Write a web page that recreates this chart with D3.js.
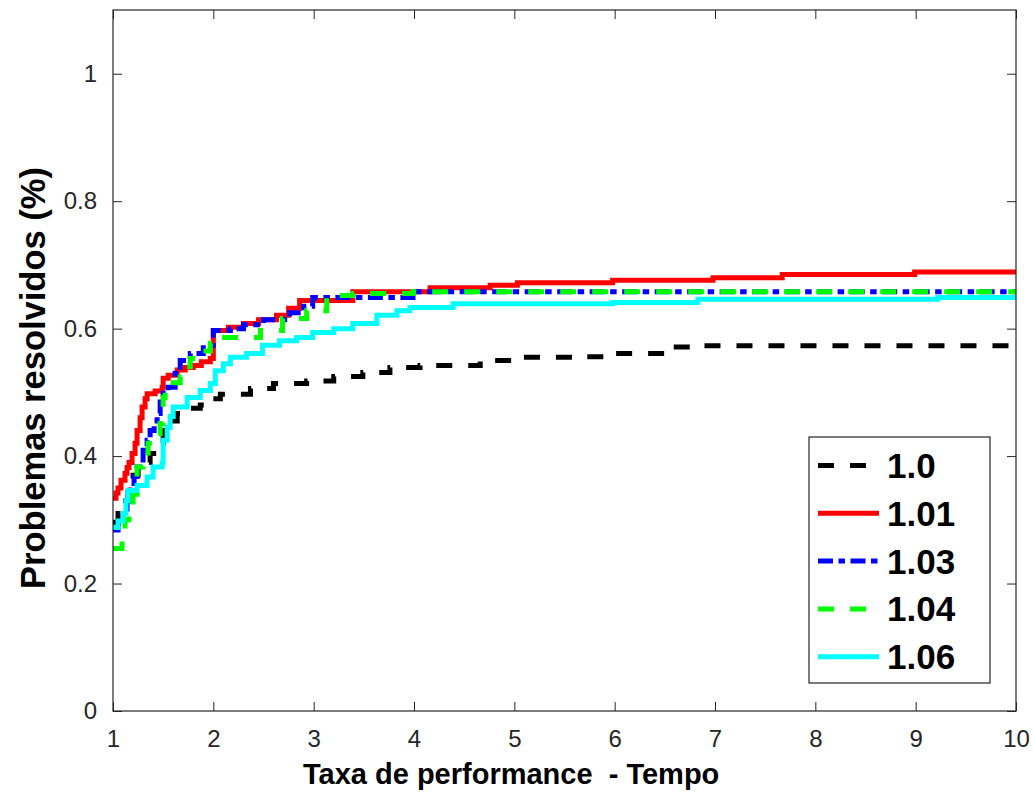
<!DOCTYPE html>
<html>
<head>
<meta charset="utf-8">
<script src="https://cdn.jsdelivr.net/npm/d3@7"></script>
<style>
  body { margin: 0; background: #fff; }
  svg { display: block; font-family: "Liberation Sans", Arial, Helvetica, sans-serif; }
</style>
</head>
<body>
<svg id="chart" width="1034" height="793"></svg>
<script>
// performance profile, [tau, fraction solved]
var names = ["1.0", "1.01", "1.03", "1.04", "1.06"];
var colors = ["#000000", "#ff0000", "#0000ff", "#00ff00", "#00ffff"];
var dashes = ["16,16", null, "15,5.5,6.5,5.5", "16,16", null];

var p100 = [[1.0,0.296],[1.05,0.31],[1.1,0.33],[1.15,0.35],[1.2,0.37],[1.25,0.38],[1.3,0.39],[1.37,0.404],
  [1.45,0.42],[1.5,0.44],[1.57,0.455],[1.64,0.467],[1.75,0.475],[1.87,0.48],[2.0,0.49],[2.07,0.497],
  [2.37,0.506],[2.6,0.514],[2.93,0.518],[3.2,0.525],[3.49,0.531],[3.76,0.539],[4.06,0.542],[4.66,0.55],
  [4.99,0.555],[5.62,0.556],[5.92,0.561],[6.52,0.571],[6.78,0.573],[10,0.573]];
var p101 = [[1.0,0.334],[1.03,0.342],[1.05,0.35],[1.08,0.362],[1.12,0.373],[1.14,0.382],[1.16,0.39],
  [1.19,0.404],[1.22,0.42],[1.24,0.44],[1.27,0.46],[1.29,0.477],[1.32,0.49],[1.34,0.498],[1.42,0.502],
  [1.49,0.508],[1.5,0.522],[1.55,0.527],[1.64,0.535],[1.72,0.539],[1.8,0.542],[1.88,0.548],[1.97,0.553],
  [2.0,0.597],[2.15,0.602],[2.3,0.608],[2.45,0.614],[2.63,0.621],[2.75,0.632],[2.86,0.644],[3.39,0.658],
  [4.16,0.664],[4.76,0.668],[5.03,0.672],[5.98,0.676],[6.98,0.68],[7.67,0.685],[8.99,0.689],[10,0.689]];
var p103 = [[1.0,0.284],[1.05,0.295],[1.1,0.31],[1.14,0.33],[1.17,0.351],[1.21,0.368],[1.24,0.383],
  [1.3,0.409],[1.34,0.425],[1.37,0.44],[1.41,0.455],[1.44,0.467],[1.47,0.485],[1.5,0.503],[1.55,0.508],
  [1.62,0.53],[1.67,0.55],[1.77,0.561],[1.9,0.574],[2.0,0.597],[2.17,0.6],[2.3,0.606],[2.5,0.614],
  [2.76,0.625],[2.9,0.635],[2.99,0.649],[3.99,0.658],[10,0.658]];
var p104 = [[1.0,0.255],[1.09,0.268],[1.12,0.3],[1.16,0.32],[1.2,0.34],[1.24,0.383],[1.3,0.4],[1.35,0.42],
  [1.41,0.435],[1.47,0.451],[1.5,0.492],[1.52,0.506],[1.6,0.515],[1.67,0.524],[1.72,0.54],[1.77,0.553],
  [1.9,0.565],[1.97,0.577],[2.0,0.586],[2.47,0.597],[2.69,0.616],[2.93,0.628],[3.13,0.652],[3.39,0.655],
  [3.99,0.658],[10,0.658]];
var p106 = [[1.0,0.288],[1.05,0.298],[1.1,0.31],[1.13,0.33],[1.15,0.346],[1.24,0.354],[1.34,0.367],
  [1.4,0.383],[1.49,0.389],[1.5,0.425],[1.54,0.445],[1.57,0.462],[1.6,0.477],[1.74,0.492],[1.87,0.503],
  [1.97,0.514],[2.02,0.534],[2.1,0.545],[2.17,0.555],[2.33,0.561],[2.49,0.574],[2.66,0.581],[2.83,0.586],
  [2.99,0.594],[3.2,0.6],[3.39,0.608],[3.63,0.621],[3.83,0.628],[3.96,0.633],[4.39,0.639],[5.98,0.641],
  [6.83,0.646],[9.22,0.649],[10,0.649]];
var series = [p100, p101, p103, p104, p106];

var xTicks = [1, 2, 3, 4, 5, 6, 7, 8, 9, 10];
var yTicks = [0, 0.2, 0.4, 0.6, 0.8, 1];

var svg = d3.select("#chart"),
  margin = {top: 10, right: 18, bottom: 82, left: 113},
  width = 1034 - margin.left - margin.right,
  height = 793 - margin.top - margin.bottom,
  axisColor = "#262626",
  tickLen = 9;

var x = d3.scaleLinear().domain([1, 10]).range([0, width]),
  y = d3.scaleLinear().domain([0, 1.1]).range([height, 0]);

var g = svg.append("g")
  .attr("transform", "translate(" + margin.left + "," + margin.top + ")");

g.append("clipPath").attr("id", "clip")
  .append("rect").attr("width", width).attr("height", height);

var line = d3.line()
  .x(function(d) { return x(d[0]); })
  .y(function(d) { return y(d[1]); })
  .curve(d3.curveStepAfter);

g.append("g").attr("clip-path", "url(#clip)")
  .selectAll("path")
  .data(series)
  .enter().append("path")
  .attr("d", line)
  .attr("fill", "none")
  .attr("stroke", function(d, i) { return colors[i]; })
  .attr("stroke-width", 5)
  .attr("stroke-dasharray", function(d, i) { return dashes[i]; });

// matlab style box with inward ticks on all four sides
function styleAxis(sel) {
  sel.select(".domain").remove();
  sel.selectAll("line").attr("stroke", axisColor);
  sel.selectAll("text")
    .attr("fill", axisColor)
    .style("font-size", "24px");
}

g.append("g")
  .attr("transform", "translate(0," + height + ")")
  .call(d3.axisBottom(x).tickValues(xTicks).tickFormat(d3.format("d")).tickSizeInner(-tickLen).tickPadding(19))
  .call(styleAxis);
g.append("g")
  .call(d3.axisTop(x).tickValues(xTicks).tickSizeInner(-tickLen).tickFormat(""))
  .call(styleAxis);
g.append("g")
  .call(d3.axisLeft(y).tickValues(yTicks).tickFormat(function(d) { return d; }).tickSizeInner(-tickLen).tickPadding(16))
  .call(styleAxis);
g.append("g")
  .attr("transform", "translate(" + width + ",0)")
  .call(d3.axisRight(y).tickValues(yTicks).tickSizeInner(-tickLen).tickFormat(""))
  .call(styleAxis);

g.append("rect")
  .attr("width", width).attr("height", height)
  .attr("fill", "none")
  .attr("stroke", axisColor)
  .attr("stroke-width", 1.2);

svg.append("text")
  .attr("x", 303).attr("y", 784)
  .attr("xml:space", "preserve")
  .style("white-space", "pre")
  .style("font-size", "29px").style("font-weight", "bold")
  .text("Taxa de performance  - Tempo");

svg.append("text")
  .attr("transform", "translate(45,378) rotate(-90)")
  .attr("text-anchor", "middle")
  .style("font-size", "34.5px").style("font-weight", "bold")
  .text("Problemas resolvidos (%)");

// legend
var legend = svg.append("g").attr("transform", "translate(809,437)");
legend.append("rect")
  .attr("width", 181).attr("height", 246)
  .attr("fill", "#fff")
  .attr("stroke", axisColor)
  .attr("stroke-width", 1.2);

var keys = legend.selectAll(".key")
  .data(names)
  .enter().append("g")
  .attr("class", "key")
  .attr("transform", function(d, i) { return "translate(0," + (28.5 + i * 47.8) + ")"; });

keys.append("line")
  .attr("x1", 9).attr("x2", 70)
  .attr("stroke", function(d, i) { return colors[i]; })
  .attr("stroke-width", 5)
  .attr("stroke-dasharray", function(d, i) { return dashes[i]; });

keys.append("text")
  .attr("x", 78).attr("y", 12.5)
  .style("font-size", "35px").style("font-weight", "bold")
  .text(function(d) { return d; });
</script>
</body>
</html>
